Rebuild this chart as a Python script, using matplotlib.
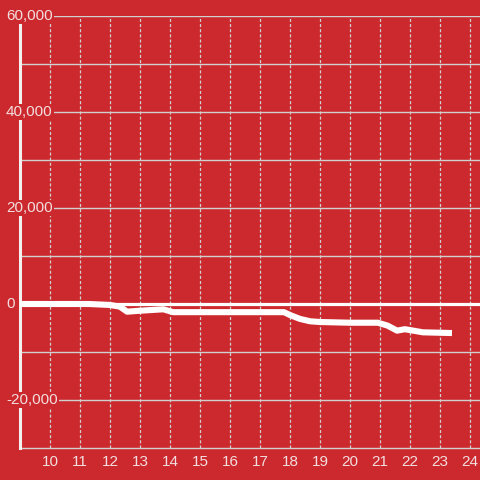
import matplotlib
matplotlib.use("Agg")
import matplotlib.pyplot as plt
import matplotlib.transforms as mtrans

# данные линии
hours = [9, 11.3, 12, 12.33, 12.57, 13, 13.78, 14.1, 17.8, 18, 18.33, 18.67, 19, 20, 20.93, 21.25, 21.57,
         21.83, 22.43, 23.4]
values = [0, 0, -200, -550, -1600, -1400, -1100, -1700, -1700, -2300, -3100, -3600, -3750, -3900, -3900,
          -4500, -5550, -5250, -5900, -6050]
x_ticks = list(range(10, 25))
y_label_ticks = [60000, 40000, 20000, 0, -20000]
y_grid = list(range(-20000, 60001, 10000))

bg = '#cc292e'
grid_col = '#d0d0d0'
text_col = '#f2dede'

plt.rcParams['font.family'] = ['Liberation Sans', 'DejaVu Sans']
plt.rcParams['lines.scale_dashes'] = False

fig = plt.figure(figsize=(4.8, 4.8), dpi=100, facecolor=bg)
ax = fig.add_axes([20 / 480, 32 / 480, 460 / 480, 432 / 480])
ax.set_facecolor(bg)
ax.set_xlim(9, 9 + 460 / 30)
ax.set_ylim(-30000, 60000)

# сетка
for yv in y_grid:
    if yv == 0:
        continue
    ax.axhline(yv, color=grid_col, lw=1.0, zorder=1)
for xv in x_ticks:
    ln = ax.axvline(xv, color=grid_col, lw=0.9, zorder=1)
    ln.set_dashes((2.2, 1.5))

ax.axhline(0, color='white', lw=2.3, zorder=3)
ax.plot(hours, values, color='white', lw=4.4, solid_joinstyle='round',
        solid_capstyle='butt', zorder=4)

for s in ['top', 'right']:
    ax.spines[s].set_visible(False)
ax.spines['left'].set_color('#f4f0f0')
ax.spines['left'].set_linewidth(2.2)
ax.spines['left'].set_zorder(3)
ax.spines['bottom'].set_color(grid_col)
ax.spines['bottom'].set_linewidth(1.0)

ax.set_xticks(x_ticks)
ax.set_xticklabels([str(v) for v in x_ticks], color=text_col, fontsize=11)
ax.tick_params(axis='x', length=0, pad=5)
ax.set_yticks([])

# подписи оси Y поверх оси
trans = mtrans.blended_transform_factory(fig.transFigure, ax.transData)
for yv in y_label_ticks:
    ax.text(6 / 480, yv, f'{yv:,}', transform=trans, ha='left', va='center',
            color=text_col, fontsize=11, zorder=6, clip_on=False,
            bbox=dict(facecolor=bg, edgecolor='none', pad=1.0))

fig.savefig('out.png', dpi=100, facecolor=bg)
